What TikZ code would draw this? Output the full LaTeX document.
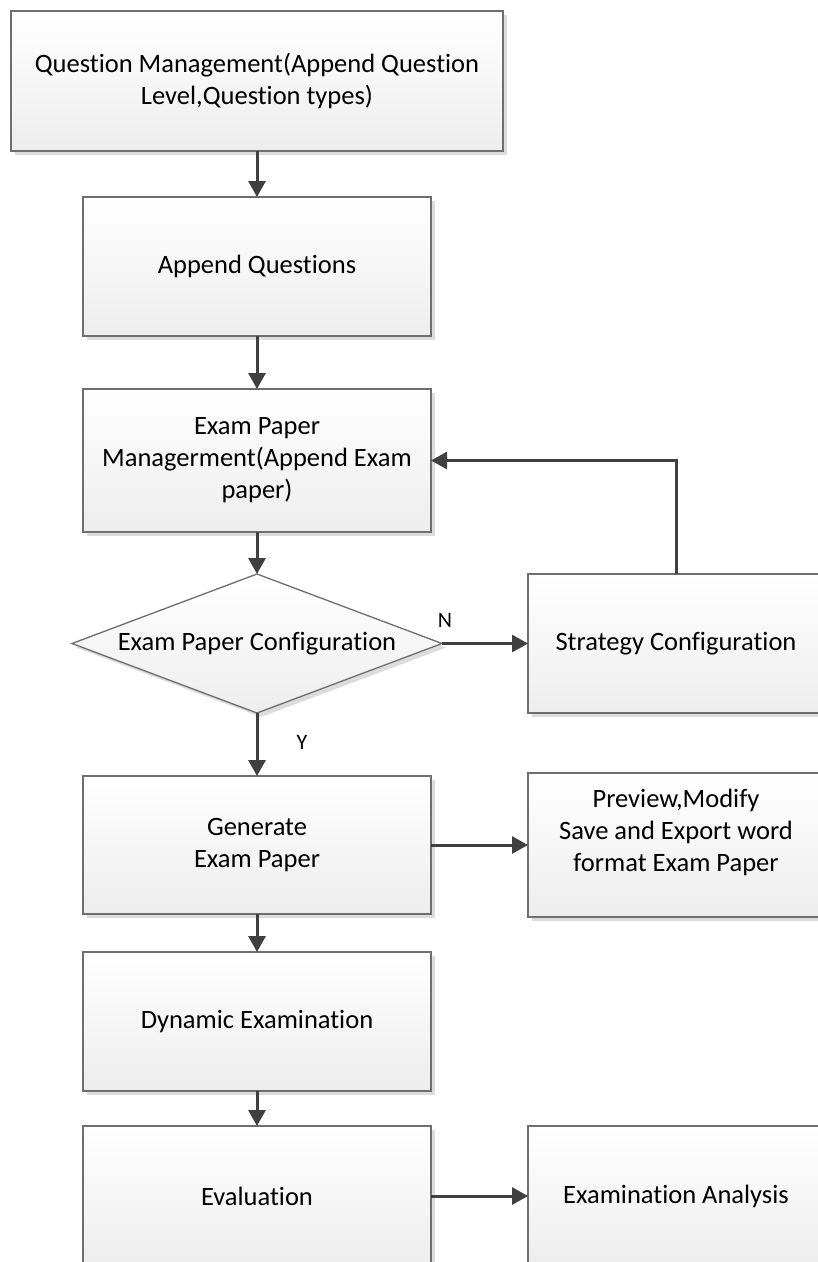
\documentclass[tikz,border=0pt]{standalone}
\usepackage{fontspec}
\setmainfont{Carlito}[Ligatures={NoCommon,NoContextual}]
\usetikzlibrary{arrows.meta,shapes.geometric,shadows}
\definecolor{bordc}{HTML}{6E6E6E}
\definecolor{arrc}{HTML}{404040}
\definecolor{shadc}{HTML}{DCDCDC}
\definecolor{botc}{HTML}{EDEDED}
\begin{document}
\begin{tikzpicture}[x=1pt,y=-1pt,
  procbox/.style={rectangle, draw=bordc, line width=1.3pt, top color=white, bottom color=botc,
    drop shadow={shadow xshift=4pt, shadow yshift=-4pt, fill=shadc, opacity=1},
    inner sep=0pt, outer sep=0pt, align=center, font=\fontsize{26.5}{32}\selectfont},
  decbox/.style={diamond, draw=bordc, line width=1.3pt, top color=white, bottom color=botc,
    drop shadow={shadow xshift=4pt, shadow yshift=-4pt, fill=shadc, opacity=1},
    inner sep=0pt, outer sep=0pt, aspect=2.66, align=center, font=\fontsize{26.5}{32}\selectfont},
  txt/.style={inner sep=0pt, align=center, font=\fontsize{26.5}{32}\selectfont},
  lbl/.style={inner sep=0pt, font=\fontsize{22}{26}\selectfont},
  flow/.style={draw=arrc, line width=3pt, -{Triangle[length=16pt,width=17pt]}}]
\useasboundingbox (0,0) rectangle (818,1262);
\fill[white] (0,0) rectangle (818,1262);
\clip (0,0) rectangle (818,1262);

\node[procbox, minimum width=492pt, minimum height=140pt] (q1) at (257,81)
  {Question Management(Append Question\\Level,Question types)};
\node[procbox, minimum width=348pt, minimum height=139pt] (q2) at (257,266.5)
  {Append Questions};
\node[procbox, minimum width=348pt, minimum height=143pt] (q3) at (257,460.5)
  {Exam Paper\\Managerment(Append Exam\\paper)};
\node[decbox, minimum width=370pt, minimum height=139pt] (dia) at (257,643.5)
  {Exam Paper Configuration};
\node[procbox, minimum width=296pt, minimum height=139pt] (strat) at (676,643.5)
  {Strategy Configuration};
\node[procbox, minimum width=348pt, minimum height=138pt] (gen) at (257,845)
  {Generate\\Exam Paper};
\node[procbox, minimum width=296pt, minimum height=144pt] (prev) at (676,845) {};
\node[txt] (prevtxt) at (676,832) {Preview,Modify\\Save and Export word\\format Exam Paper};
\node[procbox, minimum width=348pt, minimum height=139pt] (dyn) at (257,1021.5)
  {Dynamic Examination};
\node[procbox, minimum width=348pt, minimum height=140pt] (eval) at (257,1196)
  {Evaluation};
\node[procbox, minimum width=296pt, minimum height=140pt] (anal) at (676,1196)
  {Examination Analysis};

\node[lbl] (nlab) at (445,620) {N};
\node[lbl] (ylab) at (302,742) {Y};

\draw[flow] (q1.south) -- (q2.north);
\draw[flow] (q2.south) -- (q3.north);
\draw[flow] (q3.south) -- (dia.north);
\draw[flow] (dia.east) -- (strat.west);
\draw[flow] (strat.north) |- (q3.east);
\draw[flow] (dia.south) -- (gen.north);
\draw[flow] (gen.east) -- (prev.west);
\draw[flow] (gen.south) -- (dyn.north);
\draw[flow] (dyn.south) -- (eval.north);
\draw[flow] (eval.east) -- (anal.west);
\end{tikzpicture}
\end{document}
